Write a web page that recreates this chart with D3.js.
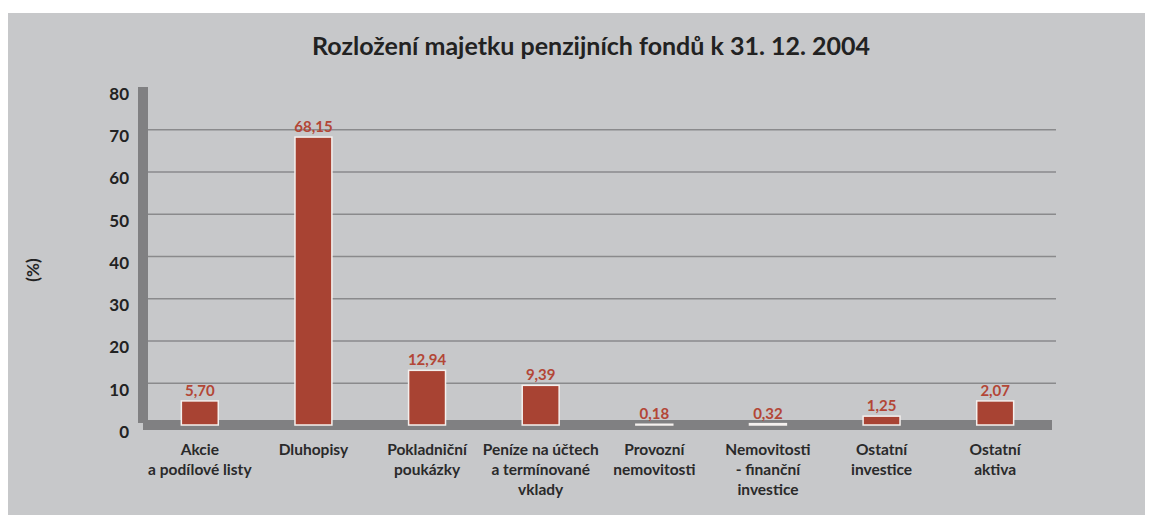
<!DOCTYPE html>
<html>
<head>
<meta charset="utf-8">
<script src="https://cdn.jsdelivr.net/npm/d3@7"></script>
<style>
  body { margin: 0; background: #fff; }
  svg { display: block; font-family: Lato, "Open Sans", sans-serif; }
</style>
</head>
<body>
<svg width="1162" height="519"></svg>
<script>
// data
const categories = [
  ["Akcie", "a podílové listy"],
  ["Dluhopisy"],
  ["Pokladniční", "poukázky"],
  ["Peníze na účtech", "a termínované", "vklady"],
  ["Provozní", "nemovitosti"],
  ["Nemovitosti", "- finanční", "investice"],
  ["Ostatní", "investice"],
  ["Ostatní", "aktiva"],
];
const valueLabels = ["5,70", "68,15", "12,94", "9,39", "0,18", "0,32", "1,25", "2,07"];
// bar heights as drawn in the original picture (last two are drawn taller than labelled)
const barHeights = [5.7, 68.15, 12.94, 9.39, 0.18, 0.32, 2.1, 5.7];
const yTicks = [0, 10, 20, 30, 40, 50, 60, 70, 80];

const svg = d3.select("svg");

// panel
svg.append("rect")
  .attr("x", 8).attr("y", 13)
  .attr("width", 1137).attr("height", 502)
  .attr("fill", "#c7c8ca");

svg.append("text")
  .attr("x", 591).attr("y", 55)
  .attr("text-anchor", "middle")
  .attr("font-size", 25)
  .attr("font-weight", "bold")
  .attr("fill", "#222")
  .text("Rozložení majetku penzijních fondů k 31. 12. 2004");

const x = d3.scaleBand()
  .domain(d3.range(categories.length))
  .range([143, 1052])
  .paddingInner(0.675)
  .paddingOuter(0.3375);

const y = d3.scaleLinear().domain([0, 80]).range([425, 87]);

// gridlines
svg.append("g")
  .attr("transform", "translate(148,0)")
  .call(d3.axisRight(y).tickValues(yTicks.filter(d => d > 0 && d < 80)).tickSize(908).tickFormat(""))
  .call(g => g.select(".domain").remove())
  .call(g => g.selectAll("line").attr("stroke", "#8a8a8c").attr("stroke-width", 1.5));

// y tick labels
svg.append("g")
  .attr("transform", "translate(129,0)")
  .call(d3.axisLeft(y).tickValues(yTicks).tickSize(0).tickPadding(0))
  .call(g => g.select(".domain").remove())
  .call(g => g.selectAll("text")
    .attr("dy", "0.72em")
    .attr("font-family", "Lato, sans-serif")
    .attr("font-size", 17)
    .attr("font-weight", "bold")
    .attr("fill", "#222"));

// axis bars
svg.append("rect")
  .attr("x", 138).attr("y", 87)
  .attr("width", 10).attr("height", 336)
  .attr("fill", "#808082");
svg.append("rect")
  .attr("x", 143).attr("y", 420)
  .attr("width", 909).attr("height", 10)
  .attr("fill", "#808082");

svg.append("text")
  .attr("transform", "translate(39,270) rotate(-90)")
  .attr("text-anchor", "middle")
  .attr("font-size", 17)
  .attr("font-weight", "bold")
  .attr("fill", "#222")
  .text("(%)");

// bars
svg.append("g")
  .selectAll("rect")
  .data(barHeights)
  .join("rect")
  .attr("x", (d, i) => x(i))
  .attr("y", d => y(d))
  .attr("width", x.bandwidth())
  .attr("height", d => y(0) - y(d))
  .attr("fill", "#a84333")
  .attr("stroke", "#f4f0ee")
  .attr("stroke-width", 1.5);

// value labels
svg.append("g")
  .selectAll("text")
  .data(barHeights)
  .join("text")
  .attr("x", (d, i) => x(i) + x.bandwidth() / 2)
  .attr("y", d => y(d) - 5)
  .attr("text-anchor", "middle")
  .attr("font-size", 15)
  .attr("font-weight", "bold")
  .attr("fill", "#b34636")
  .text((d, i) => valueLabels[i]);

// category labels
const cat = svg.append("g")
  .selectAll("text")
  .data(categories)
  .join("text")
  .attr("x", (d, i) => x(i) + x.bandwidth() / 2)
  .attr("y", 455)
  .attr("text-anchor", "middle")
  .attr("font-size", 15.5)
  .attr("font-weight", "bold")
  .attr("fill", "#2a2a2a");

cat.selectAll("tspan")
  .data(d => d)
  .join("tspan")
  .attr("x", function () { return d3.select(this.parentNode).attr("x"); })
  .attr("dy", (d, i) => i === 0 ? 0 : 20)
  .text(d => d);
</script>
</body>
</html>
